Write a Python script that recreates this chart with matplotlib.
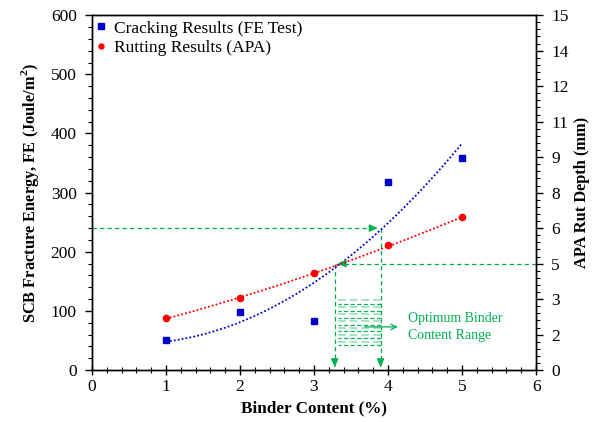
import numpy as np
import matplotlib
matplotlib.use("Agg")
import matplotlib.pyplot as plt
from matplotlib.ticker import MultipleLocator, FixedLocator

plt.rcParams['font.family'] = ['Liberation Serif', 'DejaVu Serif']
plt.rcParams['mathtext.fontset'] = 'custom'
plt.rcParams['mathtext.rm'] = 'Liberation Serif'
plt.rcParams['mathtext.bf'] = 'Liberation Serif:bold'

# ---- data ----
binder = [1, 2, 3, 4, 5]
fe_values = [50.6, 97.8, 82.6, 318.7, 359.0]          # J/m^2 (left axis)
rut_values = [2.19, 3.03, 4.09, 5.27, 6.45]            # mm (right axis)
right_ticks = [0, 1.5, 3, 4.5, 6, 7.5, 9, 10.5, 12, 13.5, 15]
right_tick_labels = ["0", "2", "3", "5", "6", "8", "9", "11", "12", "14", "15"]
fe_target = 240        # FE criterion (left axis)
rut_target = 4.5       # rut criterion (right axis, mm)
opt_low = 3.28         # optimum binder content range
opt_high = 3.90

green = '#00B050'
FS = 12.5

fig = plt.figure(figsize=(5.93, 4.22), dpi=100)
ax = fig.add_axes([0.155, 0.123, 0.749, 0.841])
ax2 = ax.twinx()

ax.set_xlim(0, 6)
ax.set_ylim(0, 600)
ax2.set_ylim(0, 15)

# trend lines
xs = np.linspace(1, 5, 200)
pb = np.polyfit(binder, fe_values, 2)
pr = np.polyfit(binder, rut_values, 2)
ax.plot(xs, np.polyval(pb, xs), color='#0000CC', ls=(0, (1, 1.2)), lw=1.3, zorder=3)
ax2.plot(xs, np.polyval(pr, xs), color='#FF0000', ls=(0, (1, 1.2)), lw=1.3, zorder=3)

h1, = ax.plot(binder, fe_values, 's', color='#0000CC', ms=5, ls='none', zorder=4,
              label='Cracking Results (FE Test)')
h2, = ax2.plot(binder, rut_values, 'o', color='#FF0000', ms=4.5, ls='none', zorder=4,
               label='Rutting Results (APA)')

dash = (0, (3.5, 2.5))
rut_left = rut_target * 40  # same level on left axis
head = '-|>,head_length=0.5,head_width=0.22'

# upper FE guide: from left axis to high bound, then down
ax.plot([0, opt_high - 0.08], [fe_target, fe_target], color=green, lw=0.9, ls=dash)
ax.annotate('', xy=(opt_high, fe_target), xytext=(opt_high - 0.12, fe_target),
            arrowprops=dict(arrowstyle=head, color=green, lw=0.9))
ax.plot([opt_high, opt_high], [fe_target, 8], color=green, lw=0.9, ls=dash)
ax.annotate('', xy=(opt_high, 0), xytext=(opt_high, 12),
            arrowprops=dict(arrowstyle=head, color=green, lw=0.9))

# rut guide: from right axis to low bound, then down
ax.plot([6, opt_low + 0.08], [rut_left, rut_left], color=green, lw=0.9, ls=dash)
ax.annotate('', xy=(opt_low, rut_left), xytext=(opt_low + 0.12, rut_left),
            arrowprops=dict(arrowstyle=head, color=green, lw=0.9))
ax.plot([opt_low, opt_low], [rut_left, 8], color=green, lw=0.9, ls=dash)
ax.annotate('', xy=(opt_low, 0), xytext=(opt_low, 12),
            arrowprops=dict(arrowstyle=head, color=green, lw=0.9))

# hatched optimum range box
for i, yv in enumerate(np.linspace(118, 42, 14)):
    if i % 2 == 0:
        ax.plot([opt_low + 0.04, opt_high], [yv, yv], color=green, lw=1.4,
                ls=(0, (4, 2)), alpha=0.35)
    else:
        ax.plot([opt_low + 0.04, opt_high], [yv, yv], color=green, lw=0.9,
                ls=(1, (3.5, 1.8)), alpha=0.95)

ax.annotate('', xy=(4.17, 73), xytext=(3.65, 73),
            arrowprops=dict(arrowstyle='->', color=green, lw=0.9))
ax.text(4.27, 88, 'Optimum Binder', color=green, fontsize=10, va='center', ha='left')
ax.text(4.27, 59, 'Content Range', color=green, fontsize=10, va='center', ha='left')

# axes formatting
ax.xaxis.set_major_locator(MultipleLocator(1))
ax.xaxis.set_minor_locator(MultipleLocator(0.2))
ax.yaxis.set_major_locator(MultipleLocator(100))
ax.yaxis.set_minor_locator(MultipleLocator(20))
ax2.yaxis.set_major_locator(FixedLocator(right_ticks))
ax2.set_yticklabels(right_tick_labels)
ax2.yaxis.set_minor_locator(MultipleLocator(0.3))

ax.tick_params(axis='x', which='major', direction='inout', length=7, width=1, labelsize=FS, pad=3)
ax.tick_params(axis='x', which='minor', direction='inout', length=4, width=0.8)
ax.tick_params(axis='y', which='major', direction='out', length=5, width=1, labelsize=FS, pad=6)
ax.tick_params(axis='y', which='minor', direction='out', length=3, width=0.8)
ax2.tick_params(which='major', direction='out', length=5, width=1, labelsize=FS, pad=6)
ax2.tick_params(which='minor', direction='out', length=3, width=0.8)

for a in (ax, ax2):
    for s in a.spines.values():
        s.set_linewidth(1.0)

ax.set_xlabel('Binder Content (%)', fontsize=12.3, fontweight='bold', labelpad=4)
ax.set_ylabel(r'SCB Fracture Energy, FE (Joule/m$^{\mathbf{2}}$)', fontsize=11.8,
              fontweight='bold', labelpad=7)
ax2.set_ylabel('APA Rut Depth (mm)', fontsize=11.8, fontweight='bold', labelpad=4)

ax.legend(handles=[h1, h2], loc='upper left', frameon=False, fontsize=FS,
          handlelength=0.5, handletextpad=0.5, borderaxespad=0.1, labelspacing=0.2,
          borderpad=0.2, markerscale=0.8)

fig.savefig('out.png', dpi=100)
